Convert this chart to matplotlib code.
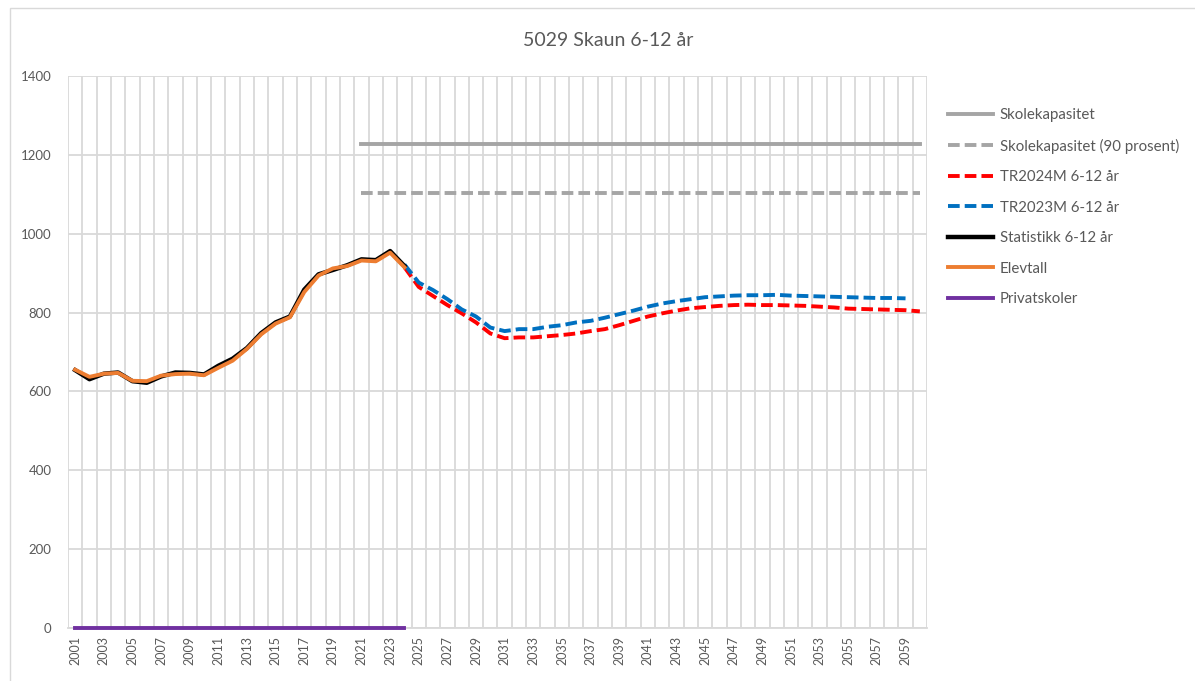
import matplotlib
matplotlib.use("Agg")
import matplotlib.pyplot as plt
from matplotlib.patches import Rectangle
import numpy as np

plt.rcParams['font.family'] = ['Lato', 'DejaVu Sans']

# ---------------- data ----------------
hist_years = list(range(2001, 2025))
statistikk = [654, 631, 645, 648, 626, 622, 638, 648, 647, 643, 665, 683,
              710, 748, 775, 790, 858, 897, 908, 920, 935, 933, 956, 918]
elevtall = [655, 637, 645, 647, 627, 626, 640, 644, 645, 641, 660, 678,
            708, 745, 772, 788, 852, 894, 912, 918, 932, 930, 952, 915]
privat = [0] * len(hist_years)

tr2024_years = list(range(2024, 2061))
tr2024 = [915, 865, 842, 819, 798, 775, 747, 735, 737, 737, 740, 743, 747,
          753, 758, 768, 779, 790, 798, 805, 811, 814, 817, 819, 820, 819,
          819, 818, 817, 815, 813, 810, 809, 808, 807, 806, 803]

tr2023_years = list(range(2024, 2060))
tr2023 = [922, 876, 857, 834, 808, 790, 762, 753, 758, 758, 764, 768, 775,
          779, 787, 796, 805, 815, 823, 829, 834, 839, 841, 843, 844, 844,
          845, 843, 842, 841, 840, 839, 838, 837, 837, 836]

kap_years = list(range(2021, 2061))
kapasitet = [1227] * len(kap_years)
kapasitet90 = [round(v * 0.9) for v in kapasitet]

labels = ["Skolekapasitet", "Skolekapasitet (90 prosent)", "TR2024M 6-12 år",
          "TR2023M 6-12 år", "Statistikk 6-12 år", "Elevtall", "Privatskoler"]

# ---------------- figure ----------------
W, H = 1195, 681
fig = plt.figure(figsize=(W / 100, H / 100), dpi=100)
ax = fig.add_axes([68 / W, 1 - 628 / H, (927 - 68) / W, (628 - 76) / H])

# chart border
fig.patches.append(Rectangle((10 / W, -0.01), 1.2, 1 - 8 / H + 0.01,
                             transform=fig.transFigure, fill=False,
                             edgecolor='#D9D9D9', linewidth=1.0))

lw = 2.8
dash = (3, 1.3)
grey = '#A5A5A5'
ax.plot(kap_years, kapasitet, color=grey, lw=lw, label=labels[0])
ax.plot(kap_years, kapasitet90, color=grey, lw=lw, dashes=dash, label=labels[1])
ax.plot(tr2024_years, tr2024, color='#FF0000', lw=lw, dashes=dash, label=labels[2])
ax.plot(tr2023_years, tr2023, color='#0070C0', lw=lw, dashes=dash, label=labels[3])
ax.plot(hist_years, statistikk, color='#000000', lw=lw + 0.4, label=labels[4])
ax.plot(hist_years, elevtall, color='#ED7D31', lw=lw, label=labels[5])
ax.plot(hist_years, privat, color='#7030A0', lw=lw, label=labels[6], clip_on=False, zorder=5)

ax.set_xlim(2000.5, 2060.5)
ax.set_ylim(0, 1400)
ax.set_yticks(range(0, 1401, 200))
ax.set_xticks(range(2001, 2061, 2))
ax.set_xticks(np.arange(2000.5, 2061, 1), minor=True)
ax.tick_params(axis='x', which='major', length=0, labelrotation=90, pad=6,
               labelsize=9, colors='#595959')
ax.tick_params(axis='x', which='minor', length=0)
ax.tick_params(axis='y', length=0, pad=12, labelsize=9.5, colors='#595959')
ax.grid(axis='x', which='minor', color='#D9D9D9', lw=1.3)
ax.grid(axis='y', which='major', color='#D9D9D9', lw=1.3)
ax.set_axisbelow(True)
for s in ['top', 'right', 'left']:
    ax.spines[s].set_visible(False)
ax.spines['bottom'].set_color('#D9D9D9')
ax.spines['bottom'].set_linewidth(1.3)

fig.text(608 / W, 1 - 40 / H, "5029 Skaun 6-12 år", ha='center', va='center',
         fontsize=14, color='#595959')

leg = ax.legend(loc='upper left', bbox_to_anchor=(942 / W, 1 - 102 / H),
                bbox_transform=fig.transFigure, frameon=False, fontsize=10.8,
                handlelength=3.0, handletextpad=0.45, labelspacing=1.1,
                borderaxespad=0)
for t in leg.get_texts():
    t.set_color('#595959')

fig.savefig("out.png", dpi=100)
